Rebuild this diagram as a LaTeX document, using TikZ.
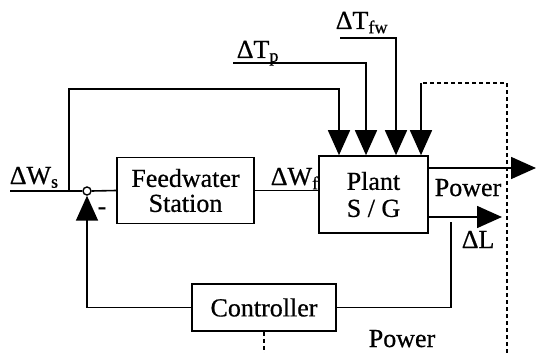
\documentclass[tikz,border=0pt]{standalone}
\usepackage{fontspec}
\setmainfont{Liberation Serif}[FakeBold=0.6]
\usetikzlibrary{arrows.meta}
\begin{document}
\begin{tikzpicture}[x=1pt,y=-1pt, line width=1.6pt,
  blk/.style={draw, rectangle, inner sep=0pt, align=center, font=\fontsize{26}{25}\selectfont},
  lbl/.style={inner sep=0pt, font=\fontsize{26}{26}\selectfont},
  arr/.style={-{Triangle[length=25pt,width=22pt]}},
  dsh/.style={dash pattern=on 4pt off 3pt}]
\useasboundingbox (0,0) rectangle (536,353);
% blocks
\node[blk, minimum width=137pt, minimum height=66pt] (fw) at (185.5,190.5) {Feedwater\\Station};
\node[blk, minimum width=109pt, minimum height=77pt] (plant) at (373.5,194.5) {Plant\\[2pt]S / G};
\node[blk, minimum width=144pt, minimum height=47pt] (ctrl) at (264,307.5) {Controller};
\node[draw, circle, inner sep=0pt, minimum size=8pt, line width=1.4pt] (sum) at (87,191) {};
% labels
\node[lbl, anchor=base west] (lws) at (9,184) {ΔW\textsubscript{s}};
\node[lbl, anchor=base west] (lwf) at (270,185) {ΔW\textsubscript{f}};
\node[lbl, anchor=base west] (ltp) at (236,58) {ΔT\textsubscript{p}};
\node[lbl, anchor=base west] (ltf) at (335,29) {ΔT\textsubscript{fw}};
\node[lbl, anchor=base west] (lpw) at (434,196) {Power};
\node[lbl, anchor=base west] (ldl) at (461,248) {ΔL};
\node[lbl, anchor=base west] (lpb) at (368,347) {Power};
\node[lbl] (lmin) at (102,211) {-};
% coordinates
\coordinate (ws) at (10,191);
\coordinate (br) at (69,191);
\coordinate (a1) at (339,89);
\coordinate (tp0) at (233,63);
\coordinate (a2) at (366,63);
\coordinate (tf0) at (340,38);
\coordinate (a3) at (396,38);
\coordinate (d0) at (507,353);
\coordinate (d1) at (507,83);
\coordinate (a4) at (421,83);
\coordinate (pw) at (536,168);
\coordinate (dl) at (502,217);
\coordinate (fb) at (451,222);
\coordinate (fb2) at (87,307.5);
\coordinate (cb) at (264,353);
% connectors
\draw (ws) -- (sum.west);
\draw[arr] (br) |- (a1) -- (a1 |- plant.north);
\draw[arr] (tp0) -- (a2) -- (a2 |- plant.north);
\draw[arr] (tf0) -- (a3) -- (a3 |- plant.north);
\draw[dsh] (d0) -- (d1) -- (a4);
\draw[arr] (a4) -- (a4 |- plant.north);
\draw[arr] (plant.east |- pw) -- (pw);
\draw[arr] (plant.east |- dl) -- (dl);
\draw (fb) |- (ctrl.east);
\draw[arr] (ctrl.west) -- (fb2) -- (sum.south);
\draw (sum.east) -- (fw.west);
\draw (fw.east) -- (fw.east -| plant.west);
\draw[dsh] (ctrl.south) -- (cb);
\end{tikzpicture}
\end{document}
